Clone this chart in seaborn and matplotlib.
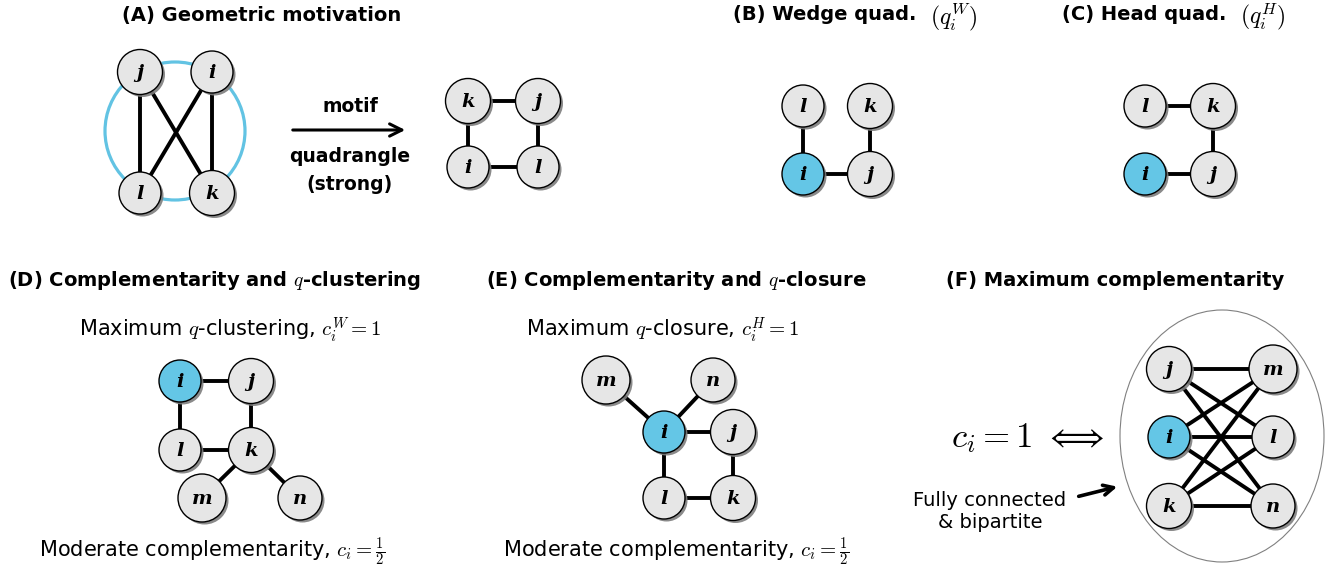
import numpy as np
import pandas as pd
import seaborn as sns
import matplotlib.pyplot as plt
from matplotlib.patches import Ellipse

# node layouts for each little graph (canvas pixels, y grows downward)
a_graph_nodes = ["j", "i", "l", "k"]
a_graph_x = [140, 212, 140, 212]
a_graph_y = [72, 72, 193, 193]
a_graph_edges = [("j", "l"), ("i", "k"), ("j", "k"), ("i", "l")]

a_quad_nodes = ["k", "j", "i", "l"]
a_quad_x = [468, 538, 468, 538]
a_quad_y = [101, 101, 167, 167]
a_quad_edges = [("k", "j"), ("k", "i"), ("j", "l"), ("i", "l")]

b_nodes = ["l", "k", "i", "j"]
b_x = [803, 870, 803, 870]
b_y = [106, 106, 174, 174]
b_edges = [("l", "i"), ("i", "j"), ("k", "j")]

c_nodes = ["l", "k", "i", "j"]
c_x = [1145, 1213, 1145, 1213]
c_y = [106, 106, 174, 174]
c_edges = [("l", "k"), ("k", "j"), ("i", "j")]

d_nodes = ["i", "j", "l", "k", "m", "n"]
d_x = [180, 251, 180, 251, 202, 300]
d_y = [381, 381, 450, 450, 498, 498]
d_edges = [("i", "j"), ("i", "l"), ("j", "k"), ("l", "k"), ("k", "m"), ("k", "n")]

e_nodes = ["m", "n", "i", "j", "l", "k"]
e_x = [606, 713, 664, 733, 664, 733]
e_y = [380, 380, 432, 432, 498, 498]
e_edges = [("m", "i"), ("n", "i"), ("i", "j"), ("i", "l"), ("j", "k"), ("l", "k")]

f_left = ["j", "i", "k"]
f_right = ["m", "l", "n"]
f_nodes = f_left + f_right
f_x = [1169, 1169, 1169, 1273, 1273, 1273]
f_y = [369, 437, 506, 369, 437, 506]
f_edges = [(u, v) for u in f_left for v in f_right]

graphs = {
    "A1": (a_graph_nodes, a_graph_x, a_graph_y, a_graph_edges, False),
    "A2": (a_quad_nodes, a_quad_x, a_quad_y, a_quad_edges, False),
    "B": (b_nodes, b_x, b_y, b_edges, True),
    "C": (c_nodes, c_x, c_y, c_edges, True),
    "D": (d_nodes, d_x, d_y, d_edges, True),
    "E": (e_nodes, e_x, e_y, e_edges, True),
    "F": (f_nodes, f_x, f_y, f_edges, True),
}

# node diameter in px, depends on the letter
diam = {"i": 42, "j": 45, "k": 45, "l": 42, "m": 48, "n": 44}
sizes = {k: (d * 0.72) ** 2 for k, d in diam.items()}

node_rows, edge_rows = [], []
eid = 0
for g, (names, xs, ys, edges, hl) in graphs.items():
    pos = {}
    for n, x, y in zip(names, xs, ys):
        pos[n] = (x, y)
        node_rows.append(dict(graph=g, node=n, x=x, y=y,
                              fill="focus" if (hl and n == "i") else "plain"))
    for u, v in edges:
        for n in (u, v):
            edge_rows.append(dict(edge=eid, x=pos[n][0], y=pos[n][1]))
        eid += 1
nodes = pd.DataFrame(node_rows)
links = pd.DataFrame(edge_rows)

sns.set_style("white")
plt.rcParams["mathtext.fontset"] = "cm"
plt.rcParams["font.family"] = ["DejaVu Sans"]
plt.rcParams["text.color"] = "black"

fig = plt.figure(figsize=(13.38, 5.75), dpi=100)
ax = fig.add_axes([0, 0, 1, 1])
ax.set_xlim(0, 1338)
ax.set_ylim(575, 0)
ax.axis("off")

sns.lineplot(data=links, x="x", y="y", units="edge", estimator=None, sort=False,
             color="black", linewidth=2.8, ax=ax, zorder=2)
sns.scatterplot(x=nodes["x"] + 2.5, y=nodes["y"] + 2.5, size=nodes["node"], sizes=sizes,
                color="#7d7d7d", linewidth=0, alpha=0.9, legend=False, ax=ax, zorder=3)
sns.scatterplot(data=nodes, x="x", y="y", hue="fill", size="node", sizes=sizes,
                palette={"plain": "#e6e6e6", "focus": "#64c6e6"},
                edgecolor="black", linewidth=1.0, legend=False, ax=ax, zorder=4)
for _, r in nodes.iterrows():
    ax.text(r.x, r.y + 1, r.node, family="DejaVu Serif", style="italic", weight="bold",
            fontsize=14, ha="center", va="center", zorder=5)

ax.add_patch(Ellipse((175, 131), 140, 138, fill=False, ec="#62c3e3", lw=2.3, zorder=1))
ax.add_patch(Ellipse((1222, 436), 204, 252, fill=False, ec="#808080", lw=0.8, zorder=1))

# panel titles
tkw = dict(fontsize=14, weight="bold", va="center")
ax.text(262, 15, "(A) Geometric motivation", ha="center", **tkw)
ax.text(916, 15, "(B) Wedge quad.", ha="right", **tkw)
ax.text(930, 17, r"$(q_i^W)$", ha="left", va="center", fontsize=17)
ax.text(1226, 15, "(C) Head quad.", ha="right", **tkw)
ax.text(1240, 17, r"$(q_i^H)$", ha="left", va="center", fontsize=17)
ax.text(8, 281, r"(D) Complementarity and $q$-clustering", ha="left", **tkw)
ax.text(486, 281, r"(E) Complementarity and $q$-closure", ha="left", **tkw)
ax.text(1115, 281, "(F) Maximum complementarity", ha="center", **tkw)

# panel A arrow
ax.annotate("", xy=(408, 130), xytext=(290, 130),
            arrowprops=dict(arrowstyle="->", lw=2.2, color="black", mutation_scale=22))
ax.text(350, 107, "motif", ha="center", va="center", fontsize=13.5, weight="bold")
ax.text(350, 157, "quadrangle", ha="center", va="center", fontsize=13.5, weight="bold")
ax.text(350, 185, "(strong)", ha="center", va="center", fontsize=13.5, weight="bold")

skw = dict(fontsize=15, ha="center", va="center")
ax.text(230, 330, r"Maximum $q$-clustering, $c_i^W = 1$", **skw)
ax.text(663, 330, r"Maximum $q$-closure, $c_i^H = 1$", **skw)
ax.text(212, 552, r"Moderate complementarity, $c_i = \frac{1}{2}$", **skw)
ax.text(676, 552, r"Moderate complementarity, $c_i = \frac{1}{2}$", **skw)

ax.text(1028, 438, r"$c_i = 1\ \Longleftrightarrow$", fontsize=25, ha="center", va="center")
ax.text(990, 511, "Fully connected\n& bipartite", fontsize=14, ha="center", va="center",
        linespacing=1.2)
ax.annotate("", xy=(1120, 486), xytext=(1076, 497),
            arrowprops=dict(arrowstyle="->", lw=2.6, color="black", mutation_scale=18))

fig.savefig("out.png", dpi=100)
